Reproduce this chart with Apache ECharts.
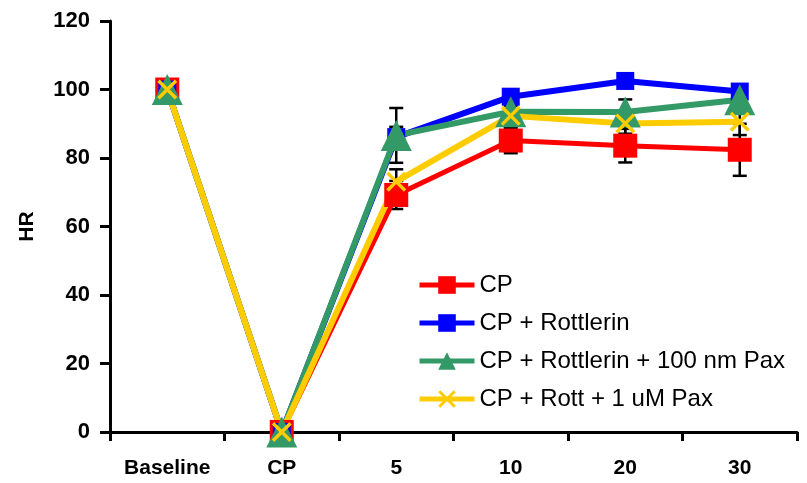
<!DOCTYPE html>
<html>
<head>
<meta charset="utf-8">
<script src="https://cdn.jsdelivr.net/npm/echarts@6/dist/echarts.min.js"></script>
<style>
  html, body { margin: 0; padding: 0; background: #fff; }
  #chart { width: 807px; height: 483px; }
</style>
</head>
<body>
<div id="chart"></div>
<script>
// Time points
const categories = ['Baseline', 'CP', '5', '10', '20', '30'];

// Heart rate (% of baseline) per group
const hrCP          = [100, 0, 69.2, 85.1, 83.6, 82.4];
const hrRott        = [100, 0, 86.1, 97.9, 102.5, 99.4];
const hrRott100Pax  = [100, 0, 86.6, 93.5, 93.4, 97.0];
const hrRott1uMPax  = [100, 0, 73.1, 92.3, 90.1, 90.6];

// Error (± SEM) per group
const errCP         = [0, 0, 4.1, 3.7, 4.9, 7.6];
const errRott       = [0, 0, 3.0, 2.0, 2.0, 2.0];
const errRott100Pax = [0, 0, 8.0, 3.0, 3.7, 3.0];
const errRott1uMPax = [0, 0, 3.6, 3.0, 3.0, 3.9];

// Y axis ticks
const yMin = 0, yMax = 120, yStep = 20;

const FONT = 'Arial, "Liberation Sans", sans-serif';
const crossPath = 'path://M0,1.2 L1.2,0 L10,8.8 L8.8,10 Z M8.8,0 L10,1.2 L1.2,10 L0,8.8 Z';

const groups = [
  { name: 'CP', values: hrCP, err: errCP, color: '#FF0000', symbol: 'rect', size: 24, width: 5 },
  { name: 'CP + Rottlerin', values: hrRott, err: errRott, color: '#0000FF', symbol: 'rect', size: 18, width: 6 },
  { name: 'CP + Rottlerin + 100 nm Pax', values: hrRott100Pax, err: errRott100Pax, color: '#339966', symbol: 'triangle', size: 31, width: 6 },
  { name: 'CP + Rott + 1 uM Pax', values: hrRott1uMPax, err: errRott1uMPax, color: '#FFCC00', symbol: crossPath, size: 20, width: 6 }
];

function errorData(values, err) {
  const out = [];
  values.forEach((v, i) => {
    if (err[i] > 0) out.push([i, v - err[i], v + err[i]]);
  });
  return out;
}

// Vertical error bar with caps at both ends
function renderError(params, api) {
  const lo = api.coord([api.value(0), api.value(1)]);
  const hi = api.coord([api.value(0), api.value(2)]);
  const half = 7;
  const style = { stroke: '#000', lineWidth: 2.5 };
  return {
    type: 'group',
    children: [
      { type: 'line', shape: { x1: lo[0], y1: lo[1], x2: hi[0], y2: hi[1] }, style },
      { type: 'line', shape: { x1: lo[0] - half, y1: lo[1], x2: lo[0] + half, y2: lo[1] }, style },
      { type: 'line', shape: { x1: hi[0] - half, y1: hi[1], x2: hi[0] + half, y2: hi[1] }, style }
    ]
  };
}

const series = [];
groups.forEach(g => {
  series.push({
    type: 'custom',
    name: g.name + ' error',
    renderItem: renderError,
    data: errorData(g.values, g.err),
    encode: { x: 0, y: [1, 2] },
    z: 1,
    silent: true
  });
});
groups.forEach(g => {
  series.push({
    type: 'line',
    name: g.name,
    data: g.values,
    symbol: g.symbol,
    symbolSize: g.size,
    showAllSymbol: true,
    lineStyle: { color: g.color, width: g.width },
    itemStyle: { color: g.color, borderWidth: 0 },
    z: 2,
    animation: false
  });
});

const chart = echarts.init(document.getElementById('chart'), null, { renderer: 'canvas' });
chart.setOption({
  animation: false,
  backgroundColor: '#fff',
  grid: { left: 110, right: 10, top: 21, bottom: 51, containLabel: false },
  legend: {
    data: groups.map(g => g.name),
    orient: 'vertical',
    left: 417,
    top: 273,
    padding: 0,
    itemWidth: 55,
    itemHeight: 22,
    itemGap: 14,
    lineStyle: { width: 5 },
    textStyle: { fontFamily: FONT, fontSize: 24, color: '#000' }
  },
  xAxis: {
    type: 'category',
    data: categories,
    boundaryGap: true,
    axisLine: { show: true, lineStyle: { color: '#000', width: 3 } },
    axisTick: { show: true, inside: false, length: 9, alignWithLabel: false, lineStyle: { color: '#000', width: 3 } },
    axisLabel: { color: '#000', fontFamily: FONT, fontWeight: 'bold', fontSize: 21, margin: 26 },
    splitLine: { show: false }
  },
  yAxis: {
    type: 'value',
    min: yMin, max: yMax, interval: yStep,
    name: 'HR',
    nameLocation: 'middle',
    nameGap: 72,
    nameTextStyle: { color: '#000', fontFamily: FONT, fontWeight: 'bold', fontSize: 21 },
    axisLine: { show: true, lineStyle: { color: '#000', width: 3 } },
    axisTick: { show: true, inside: false, length: 10, lineStyle: { color: '#000', width: 3 } },
    axisLabel: { color: '#000', fontFamily: FONT, fontWeight: 'bold', fontSize: 22, margin: 20 },
    splitLine: { show: false }
  },
  series
});
</script>
</body>
</html>
